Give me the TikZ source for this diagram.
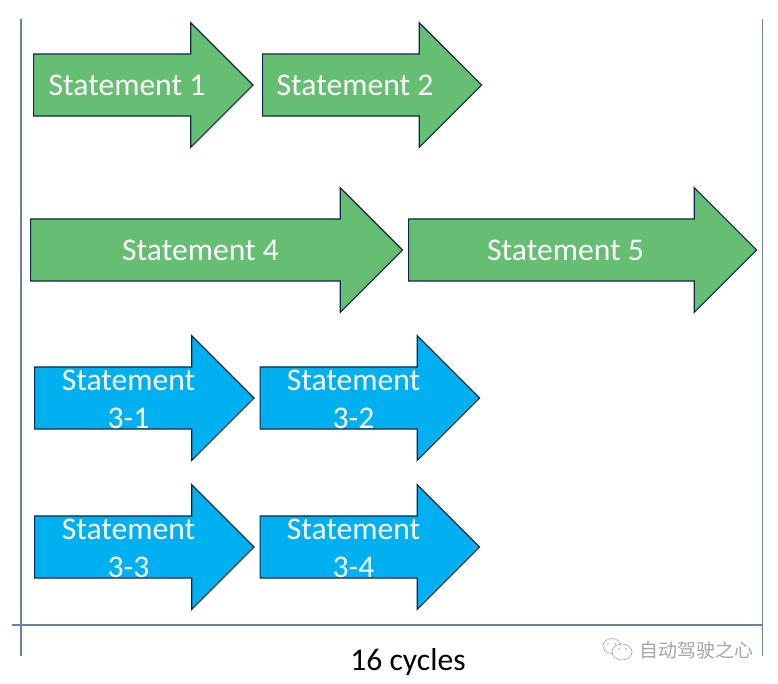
\documentclass[tikz,border=0pt]{standalone}
\usepackage{fontspec}
\setmainfont{Carlito}
\newfontfamily\cjkfont{Noto Sans CJK SC}
\usepackage{xcolor}
\usetikzlibrary{
  shapes.arrows,
  shapes.geometric,
  positioning
}
\definecolor{stmtgreen}{RGB}{101,190,114}
\definecolor{stmtblue}{RGB}{0,176,240}
\definecolor{stmtedge}{RGB}{15,40,75}
\definecolor{ruleblue}{RGB}{105,130,165}
\definecolor{markgray}{RGB}{165,165,165}

\begin{document}
\begin{tikzpicture}[
  x=0.75pt, y=-0.75pt,
  stmtarrow/.style={
    single arrow, draw=stmtedge, line width=0.9pt, anchor=tail,
    single arrow head extend=23.4pt, single arrow tip angle=90,
    single arrow head indent=0pt, inner sep=0pt,
    text height=45.6pt, text depth=0pt, text width=0pt,
    minimum height=#1*0.75pt, minimum width=93.5pt
  },
  greenarrow/.style={stmtarrow=#1, fill=stmtgreen},
  bluearrow/.style={stmtarrow=#1, fill=stmtblue},
  stmtlabel/.style={text=white, font=\fontsize{23.7}{28.7}\selectfont, align=center},
  rule/.style={draw=ruleblue, line width=0.8pt},
  markline/.style={draw=markgray, line width=0.45pt}
]
  \useasboundingbox (0,0) rectangle (778,683);

  % rows of statements
  \node[greenarrow=219.5] (s1) at (33,85) {};
  \node[greenarrow=219] (s2) at (262,85) {};
  \node[greenarrow=372] (s4) at (30,250) {};
  \node[greenarrow=348] (s5) at (408,250) {};
  \node[bluearrow=219.5] (s31) at (34,398) {};
  \node[bluearrow=219.5] (s32) at (259.5,398) {};
  \node[bluearrow=219.5] (s33) at (34,547) {};
  \node[bluearrow=219.5] (s34) at (259.5,547) {};

  \node[stmtlabel] (l1) at (127,85) {Statement 1};
  \node[stmtlabel] (l2) at (355,85) {Statement 2};
  \node[stmtlabel] (l4) at (200.5,250) {Statement 4};
  \node[stmtlabel] (l5) at (565.5,250) {Statement 5};
  \node[stmtlabel] (l31) at (128.5,399.5) {Statement\\3-1};
  \node[stmtlabel] (l32) at (353.5,399.5) {Statement\\3-2};
  \node[stmtlabel] (l33) at (128.5,548.5) {Statement\\3-3};
  \node[stmtlabel] (l34) at (353.5,548.5) {Statement\\3-4};

  % time axis
  \coordinate (lefttop) at (21,19);
  \coordinate (leftbot) at (21,656);
  \coordinate (righttop) at (762.5,19);
  \coordinate (rightbot) at (762.5,656);
  \coordinate (axisstart) at (12,625);
  \coordinate (axisend) at (762.5,625);
  \draw[rule] (lefttop) -- (leftbot);
  \draw[rule] (righttop) -- (rightbot);
  \draw[rule] (axisstart) -- (axisend);
  \node[font=\fontsize{23.7}{28}\selectfont] (cycles) at (408,662.5) {16 cycles};

  % account mark
  \draw[markline, fill=white] (612,646) ellipse [x radius=9, y radius=7.5];
  \draw[markline, fill=white] (622,652) ellipse [x radius=10, y radius=8];
  \fill[markgray] (608,644) circle (0.9) (615,644) circle (0.9)
    (619,649) circle (0.9) (626,649) circle (0.9);
  \node[text=markgray, font=\cjkfont\fontsize{14.2}{16}\selectfont] (mark) at (696.5,650) {自动驾驶之心};
\end{tikzpicture}
\end{document}
